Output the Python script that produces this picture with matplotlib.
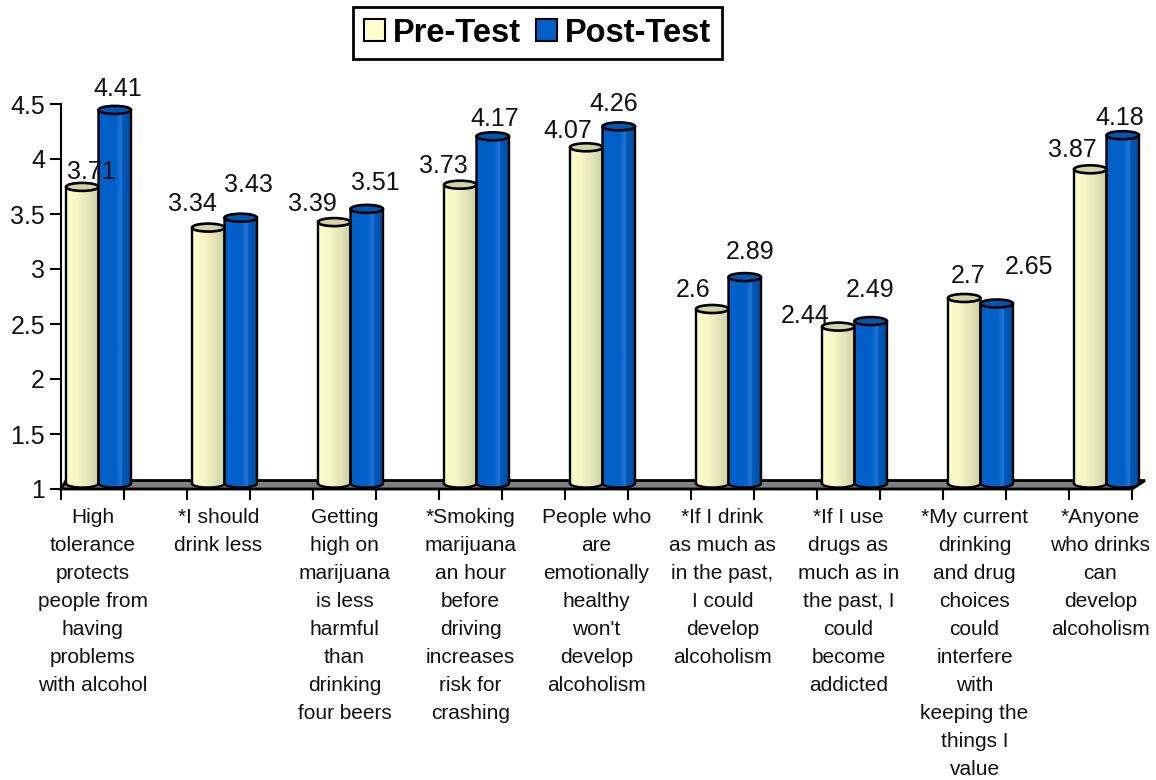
import matplotlib
matplotlib.use('Agg')
import matplotlib.pyplot as plt
import numpy as np
from matplotlib.colors import LinearSegmentedColormap
from matplotlib.patches import Patch, Polygon, Ellipse, PathPatch
from matplotlib.path import Path

plt.rcParams['font.family'] = ['Liberation Sans', 'DejaVu Sans']

categories = [
    "High\ntolerance\nprotects\npeople from\nhaving\nproblems\nwith alcohol",
    "*I should\ndrink less",
    "Getting\nhigh on\nmarijuana\nis less\nharmful\nthan\ndrinking\nfour beers",
    "*Smoking\nmarijuana\nan hour\nbefore\ndriving\nincreases\nrisk for\ncrashing",
    "People who\nare\nemotionally\nhealthy\nwon't\ndevelop\nalcoholism",
    "*If I drink\nas much as\nin the past,\nI could\ndevelop\nalcoholism",
    "*If I use\ndrugs as\nmuch as in\nthe past, I\ncould\nbecome\naddicted",
    "*My current\ndrinking\nand drug\nchoices\ncould\ninterfere\nwith\nkeeping the\nthings I\nvalue",
    "*Anyone\nwho drinks\ncan\ndevelop\nalcoholism",
]
pre_test = [3.71, 3.34, 3.39, 3.73, 4.07, 2.6, 2.44, 2.7, 3.87]
post_test = [4.41, 3.43, 3.51, 4.17, 4.26, 2.89, 2.49, 2.65, 4.18]
pre_labels = ['3.71', '3.34', '3.39', '3.73', '4.07', '2.6', '2.44', '2.7', '3.87']
post_labels = ['4.41', '3.43', '3.51', '4.17', '4.26', '2.89', '2.49', '2.65', '4.18']
y_ticks = [1, 1.5, 2, 2.5, 3, 3.5, 4, 4.5]
y_labels = ['1', '1.5', '2', '2.5', '3', '3.5', '4', '4.5']

# label offsets from the top of each bar, in pixels
pre_dx = [9, -16, -22, -17, -19, -19, -33, 4, -18]
pre_dy = [15, 24, 18, 19, 16, 19, 11, 22, 19]
post_dx = [3, 8, 9, 2, -5, 5, -1, 32, -3]
post_dy = [21, 33, 26, 17, 22, 25, 31, 37, 17]

W, H = 1156, 780
PX_X = 126.0   # pixels per category
PX_Y = 110.0   # pixels per unit
X0, Y1 = 61, 489

pre_cmap = LinearSegmentedColormap.from_list('pre', [(0, '#FFFFCC'), (0.35, '#F6F6C6'), (0.65, '#E6E6BA'), (0.85, '#D8D8AE'), (1, '#CFCFA6')])
post_cmap = LinearSegmentedColormap.from_list('post', [(0, '#0060C8'), (0.5, '#0060C8'), (0.68, '#2274D4'), (0.72, '#0059BC'), (1, '#004A9C')])

fig = plt.figure(figsize=(W / 100, H / 100), dpi=100)
right = 1150
top = Y1 - 3.6 * PX_Y
ax = fig.add_axes([X0 / W, 1 - Y1 / H, (right - X0) / W, (Y1 - top) / H])
xmax = (right - X0) / PX_X


def cylinder(x0, x1, value, cmap, lid):
    lift = 4 / PX_Y
    rad = 4 / PX_Y
    base = 1 + 5.5 / PX_Y
    cx, w = (x0 + x1) / 2, (x1 - x0) / 2
    t = np.linspace(np.pi, 2 * np.pi, 30)
    xs = np.r_[cx + w * np.cos(t), x1, x0]
    ys = np.r_[base + rad * np.sin(t), value + lift, value + lift]
    body = PathPatch(Path(np.c_[xs, ys]), facecolor='none', edgecolor='none', zorder=3)
    ax.add_patch(body)
    im = ax.imshow(np.linspace(0, 1, 64)[None, :], extent=[x0, x1, 1, value + lift],
                   cmap=cmap, aspect='auto', zorder=3, interpolation='bilinear')
    im.set_clip_path(body)
    ax.plot(xs[:-1].tolist() + [x0, x0], ys[:-1].tolist() + [value + lift, base],
            color='black', lw=1.7, zorder=4, solid_joinstyle='round')
    ax.add_patch(Ellipse((cx, value + lift), x1 - x0, 2 * rad, facecolor=lid,
                         edgecolor='black', lw=1.9, zorder=5))


# grey floor behind the bars
floor_dx = 13 / PX_X
floor_dy = 8.5 / PX_Y
ax.add_patch(Polygon([(0, 1), (8.5, 1), (8.5 + floor_dx, 1 + floor_dy), (5 / PX_X, 1 + floor_dy)],
                     closed=True, facecolor='#808080', edgecolor='black', lw=2, zorder=1, clip_on=False))

bar_w = 32.5 / PX_X
start = 5 / PX_X
for i in range(len(categories)):
    cylinder(i + start, i + start + bar_w, pre_test[i], pre_cmap, '#D4D4A6')
    cylinder(i + start + bar_w, i + start + 2 * bar_w, post_test[i], post_cmap, '#0058B4')
    for val, txt, dx, dy, x in [(pre_test[i], pre_labels[i], pre_dx[i], pre_dy[i], i + start + bar_w / 2),
                                (post_test[i], post_labels[i], post_dx[i], post_dy[i], i + start + 1.5 * bar_w)]:
        ax.annotate(txt, (x, val + 4 / PX_Y), xytext=(dx, dy), textcoords='offset pixels',
                    ha='center', va='center', fontsize=18, color='#111111', zorder=6)

ax.set_xlim(0, xmax)
ax.set_ylim(1, 4.6)
ax.patch.set_visible(False)
for s in ['top', 'right']:
    ax.spines[s].set_visible(False)
ax.spines['left'].set_bounds(1, 4.5)
ax.spines['bottom'].set_bounds(0, 8.5)
ax.spines['left'].set_linewidth(1.5)
ax.spines['bottom'].set_linewidth(1.5)
ax.spines['left'].set_zorder(2)
ax.spines['bottom'].set_zorder(2)

ax.set_yticks(y_ticks)
ax.set_yticklabels(y_labels, fontsize=18, color='#111111')
ax.tick_params(axis='y', length=8, width=1.5, pad=3.5)
ax.set_xticks(np.arange(0, 8.51, 0.5))
ax.set_xticklabels([])
ax.tick_params(axis='x', which='major', length=8, width=1.5)
ax.set_xticks(np.arange(len(categories)) + 0.25, minor=True)
ax.set_xticklabels(categories, minor=True, fontsize=15, color='#111111', linespacing=1.6)
ax.tick_params(axis='x', which='minor', length=0, pad=14)

handles = [Patch(facecolor='#FFFFCC', edgecolor='black', lw=1.5, label='Pre-Test'),
           Patch(facecolor='#0060C8', edgecolor='black', lw=1.5, label='Post-Test')]
leg = ax.legend(handles=handles, ncol=2, loc='center', bbox_to_anchor=(537.5 / W, 1 - 33 / H),
                bbox_transform=fig.transFigure, fancybox=False, framealpha=1, edgecolor='black',
                prop={'size': 23.5, 'weight': 'bold'}, handlelength=0.65, handleheight=0.65,
                handletextpad=0.25, columnspacing=0.45, borderpad=0.32, borderaxespad=0)
leg.get_frame().set_linewidth(2)

fig.savefig('out.png', dpi=100)
